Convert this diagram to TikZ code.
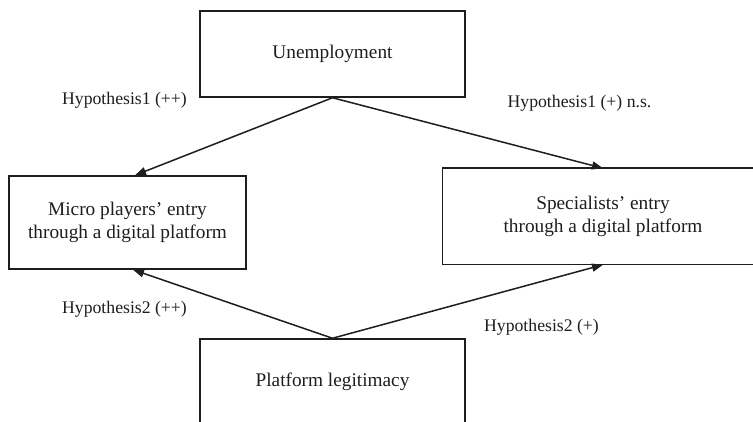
\documentclass[tikz,border=0pt]{standalone}
\usepackage{fontspec}
\setmainfont{Liberation Serif}
\usetikzlibrary{arrows.meta}
\definecolor{ink}{HTML}{1E1E1E}
\tikzset{
  box/.style={draw=ink, line width=1.5pt, inner sep=0pt, align=center, text=ink,
    font=\fontsize{19.3}{22.5}\selectfont},
  openbox/.style={box, draw=none},
  lbl/.style={inner sep=0pt, text=ink, font=\fontsize{17.7}{20}\selectfont},
  conn/.style={draw=ink, line width=1.5pt, -{Triangle[length=11pt,width=8pt]}}
}
\begin{document}
\begin{tikzpicture}[x=1pt,y=-1pt]
\useasboundingbox (0,0) rectangle (753,422);
\clip (0,0) rectangle (753,422);
\fill[white] (0,0) rectangle (753,422);
\node[box, minimum width=265pt, minimum height=86pt] (U) at (332.5,54) {Unemployment};
\node[box, minimum width=237pt, minimum height=93pt] (M) at (127.5,222.5) {Micro players’ entry\\through a digital platform};
\node[openbox, minimum width=320pt, minimum height=95pt] (S) at (603,216.5) {Specialists’ entry\\through a digital platform};
\draw[ink, line width=1.5pt] (S.north west) rectangle ([xshift=40pt]S.south east);
\node[box, minimum width=265pt, minimum height=86pt] (P) at (332.5,382) {Platform legitimacy};
\node[lbl] (l1) at (124.5,100) {Hypothesis1 (++)};
\node[lbl] (l2) at (579.5,103) {Hypothesis1 (+) n.s.};
\node[lbl] (l3) at (124.5,309) {Hypothesis2 (++)};
\node[lbl] (l4) at (541.5,327) {Hypothesis2 (+)};
\draw[conn] (U.south) -- ([xshift=7.5pt]M.north);
\draw[conn] (U.south) -- (S.north);
\draw[conn] (P.north) -- ([xshift=5.5pt]M.south);
\draw[conn] (P.north) -- (S.south);
\end{tikzpicture}
\end{document}
